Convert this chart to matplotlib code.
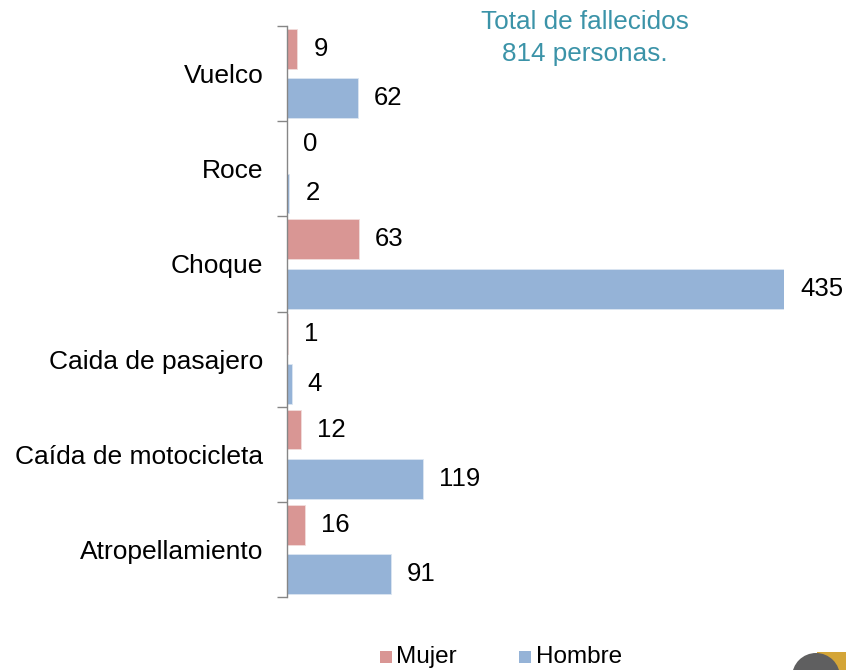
import matplotlib
matplotlib.use("Agg")
import matplotlib.pyplot as plt
from matplotlib.patches import Rectangle, Circle
import numpy as np

plt.rcParams['font.family'] = ['Liberation Sans', 'DejaVu Sans']

categories = ["Vuelco", "Roce", "Choque", "Caida de pasajero", "Caída de motocicleta", "Atropellamiento"]
mujer = [9, 0, 63, 1, 12, 16]
hombre = [62, 2, 435, 4, 119, 91]
title_text = "Total de fallecidos\n814 personas."

c_mujer = "#D99694"
c_hombre = "#95B3D7"

fig = plt.figure(figsize=(8.46, 6.70), dpi=100)
W, H = 846, 670
ax = fig.add_axes([287 / W, 1 - 597 / H, (784 - 287) / W, (597 - 26) / H])

y = np.arange(len(categories))
bh = 0.42
ax.barh(y - 0.26, mujer, height=bh, color=c_mujer, edgecolor="#F2DCDB", linewidth=0.6)
ax.barh(y + 0.26, hombre, height=bh, color=c_hombre, edgecolor="#DCE6F2", linewidth=0.6)

fs = 18.5
for i in range(len(categories)):
    ax.text(mujer[i] + 14, y[i] - 0.26, str(mujer[i]), va="center", ha="left", fontsize=fs)
    ax.text(hombre[i] + 14, y[i] + 0.26, str(hombre[i]), va="center", ha="left", fontsize=fs)

ax.set_xlim(0, 435)
ax.set_ylim(len(categories) - 0.5, -0.5)
ax.set_xticks([])
ax.set_yticks(y)
ax.set_yticklabels(categories, fontsize=19)
ax.tick_params(axis="y", which="major", length=0, pad=17)
ax.set_yticks(np.arange(-0.5, len(categories)), minor=True)
ax.tick_params(axis="y", which="minor", length=7, color="#868686", width=1)
for s in ["top", "right", "bottom"]:
    ax.spines[s].set_visible(False)
ax.spines["left"].set_color("#868686")
ax.spines["left"].set_linewidth(1)
ax.patch.set_alpha(0)

fig.text(585 / W, 1 - 38 / H, title_text, ha="center", va="center", fontsize=18.8,
         color="#3B93A8", linespacing=1.45)

# legend
fig.patches.append(Rectangle((380 / W, 1 - 663 / H), 12 / W, 12 / H, transform=fig.transFigure,
                             facecolor=c_mujer, edgecolor="none"))
fig.text(396 / W, 1 - 657 / H, "Mujer", ha="left", va="center", fontsize=17.5)
fig.patches.append(Rectangle((519 / W, 1 - 663 / H), 12 / W, 12 / H, transform=fig.transFigure,
                             facecolor=c_hombre, edgecolor="none"))
fig.text(536 / W, 1 - 657 / H, "Hombre", ha="left", va="center", fontsize=17.5)

# logo fragment bottom right
lax = fig.add_axes([0, 0, 1, 1], zorder=-1)
lax.set_xlim(0, W)
lax.set_ylim(H, 0)
lax.axis("off")
lax.add_patch(Rectangle((817, 652), 29, 18, facecolor="#D4A537", edgecolor="none"))
lax.add_patch(Circle((816, 677), 24, facecolor="#5F5F60", edgecolor="none"))

fig.savefig("out.png", dpi=100)
